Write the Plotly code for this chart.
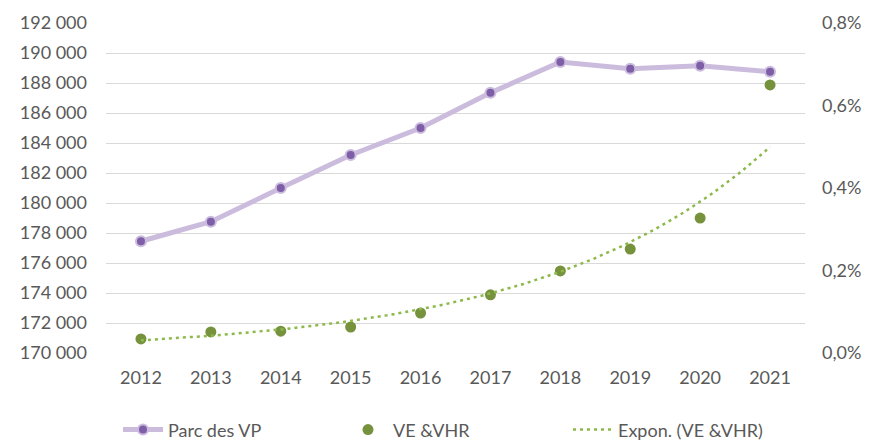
import numpy as np
import plotly.graph_objects as go

years = [2012, 2013, 2014, 2015, 2016, 2017, 2018, 2019, 2020, 2021]
parc_vp = [177450, 178750, 181000, 183200, 185000, 187350, 189400, 188950, 189150, 188750]
ve_vhr = [0.00034, 0.00051, 0.00053, 0.00063, 0.00097, 0.00141, 0.00199, 0.00252, 0.00327, 0.0065]

# exponential trend, fitted like Excel's "Expon." trendline
idx = np.arange(1, len(years) + 1)
b, a = np.polyfit(idx, np.log(ve_vhr), 1)
xs = np.linspace(1, len(years), 200)
trend_x = years[0] + xs - 1
trend_y = np.exp(a + b * xs)

font = "Lato"
grey = "#595959"

fig = go.Figure()
fig.add_trace(go.Scatter(
    x=years, y=parc_vp, name="Parc des VP", mode="lines+markers",
    line=dict(color="#cbbcdd", width=5),
    marker=dict(color="#7e5ea6", size=10, line=dict(color="#cbbcdd", width=2)),
))
fig.add_trace(go.Scatter(
    x=years, y=ve_vhr, name="VE &VHR", mode="markers", yaxis="y2",
    marker=dict(color="#76923c", size=11),
))
fig.add_trace(go.Scatter(
    x=trend_x, y=trend_y, name="Expon. (VE &VHR)", mode="lines", yaxis="y2",
    line=dict(color="#8db94a", width=2.5, dash="3px,4px"),
))

# page body has an 8px margin, so the figure is a bit smaller than the window
fig.update_layout(
    width=864, height=433,
    margin=dict(l=98, r=67, t=15, b=88, autoexpand=False),
    paper_bgcolor="white", plot_bgcolor="white",
    separators=", ",
    font=dict(family=font, size=18, color=grey),
    xaxis=dict(range=[2011.5, 2021.5], tickmode="array", tickvals=years,
               showgrid=False, zeroline=False, showline=False,
               ticks="", ticklabelstandoff=12, automargin=False),
    yaxis=dict(range=[170000, 192000], dtick=2000, tickformat=",d",
               showgrid=True, gridcolor="#d9d9d9", gridwidth=1.3,
               zeroline=False, ticks="", ticklabelstandoff=18, automargin=False),
    yaxis2=dict(range=[0, 0.008], dtick=0.002, tickformat=".1%",
                overlaying="y", side="right", showgrid=False,
                zeroline=False, ticks="", ticklabelstandoff=16, automargin=False),
    legend=dict(orientation="h", x=0.5, xanchor="center", y=-0.233,
                yanchor="middle", font=dict(size=18, color=grey),
                itemwidth=40, entrywidth=170, entrywidthmode="pixels"),
)

fig.write_html("out.html")
